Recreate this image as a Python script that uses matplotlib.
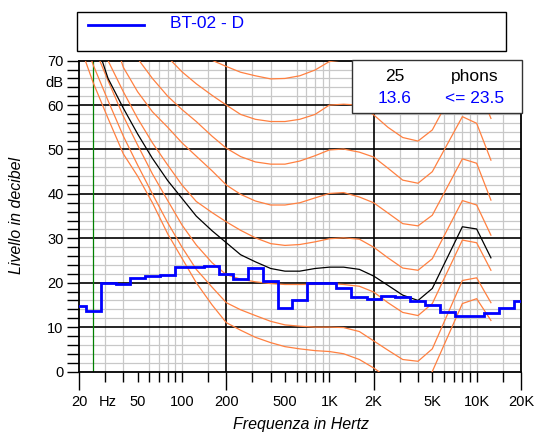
import numpy as np
import matplotlib
matplotlib.use('Agg')
import matplotlib.pyplot as plt
from matplotlib.patches import Rectangle
from matplotlib.lines import Line2D

plt.rcParams['font.family'] = ['Liberation Sans', 'DejaVu Sans']

# ---------------- data ----------------
freq = [20, 25, 31.5, 40, 50, 63, 80, 100, 125, 160, 200, 250, 315, 400, 500,
        630, 800, 1000, 1250, 1600, 2000, 2500, 3150, 4000, 5000, 8000, 10000, 12500]

phon_T = [74, 65, 57, 49, 44, 38, 31, 25.5, 20, 15, 11.0, 9.3, 7.7, 6.5, 5.6,
          5.1, 4.7, 4.5, 4.0, 2.7, 0.8, -1.5, -3.5, -3.5, 0.0, 15.3, 16.4, 11.5]
phon_10 = [78, 69, 61, 53, 46.5, 40, 33.5, 28, 23, 19, 15.5, 13.9, 12.6, 11.3, 10.5,
           10.2, 10.0, 10.0, 9.9, 9.0, 6.9, 4.8, 2.7, 2.3, 5.1, 20.5, 21.1, 15.5]
phon_20 = [82, 73.5, 65.5, 57.5, 51, 44.5, 38.5, 33, 28.5, 24.5, 21.8, 20.8, 20.2, 19.8, 19.6,
           19.6, 19.6, 19.8, 19.6, 19.2, 17.9, 15.5, 13.3, 12.6, 15.3, 29.6, 29.0, 22.8]
phon_30 = [92, 80, 70, 63, 57, 51.5, 46.5, 42, 38.3, 35.8, 33.7, 31.8, 30.1, 28.8, 28.4,
           28.6, 29.2, 29.9, 30.1, 29.8, 28.0, 25.6, 23.3, 22.8, 25.4, 38.5, 37.5, 30.7]
phon_40 = [100, 90, 79, 68.5, 63, 58.5, 55, 51.5, 48.5, 45.2, 42.0, 39.9, 38.4, 37.5, 37.5,
           38.0, 39.1, 40.1, 40.3, 39.3, 38.0, 35.7, 33.3, 32.8, 35.2, 47.9, 46.9, 38.6]
phon_50 = [106, 97, 87, 78, 70.5, 66, 62, 59, 56.3, 53, 50.3, 48.4, 47.2, 46.7, 46.7,
           47.4, 48.6, 49.9, 50.1, 49.4, 48.3, 45.8, 43.1, 42.4, 45.0, 57.4, 55.9, 47.6]
phon_60 = [112, 105, 97, 89, 82, 76, 70.8, 67.5, 64.8, 62.2, 60.0, 57.9, 56.8, 56.3, 56.3,
           56.8, 57.9, 60.0, 60.2, 60.0, 57.8, 55.0, 52.7, 51.9, 54.4, 67.0, 65.0, 57.0]
phon_70 = [118, 112, 106, 99, 92, 86, 80.5, 76.5, 73, 70.1, 68.7, 67.4, 66.6, 65.9, 66.0,
           66.6, 67.9, 69.8, 70.2, 70.0, 68.0, 65.0, 62.5, 61.8, 64.4, 77.0, 75.0, 67.0]
phon_25 = [88, 76, 66, 59.3, 53.5, 48, 43, 39, 35, 31.7, 29.0, 26.3, 24.7, 23.2, 22.6,
           22.6, 23.2, 23.5, 23.5, 23.0, 21.5, 19.4, 17.2, 16.0, 18.7, 32.6, 32.1, 25.6]

bands = [20, 25, 31.5, 40, 50, 63, 80, 100, 125, 160, 200, 250, 315, 400, 500, 630,
         800, 1000, 1250, 1600, 2000, 2500, 3150, 4000, 5000, 6300, 8000, 10000,
         12500, 16000, 20000]
levels = [14.7, 13.6, 20.0, 19.6, 21.1, 21.4, 21.7, 23.5, 23.5, 23.8, 21.9, 20.9, 23.2,
          20.4, 14.4, 16.2, 19.9, 19.9, 18.9, 16.7, 16.4, 16.9, 16.7, 15.9, 14.9, 13.4,
          12.5, 12.5, 13.2, 14.2, 15.9]

xtick_pos = [20, 31.5, 50, 100, 200, 500, 1000, 2000, 5000, 10000, 20000]
xtick_lab = ['20', 'Hz', '50', '100', '200', '500', '1K', '2K', '5K', '10K', '20K']
xminor_pos = [30, 40, 60, 70, 80, 90, 150, 300, 400, 600, 700, 800, 900, 1500,
              3000, 4000, 6000, 7000, 8000, 9000, 15000]
ytick_pos = [0, 10, 20, 30, 40, 50, 60, 70]
legend_label = 'BT-02 - D'

# ---------------- figure ----------------
W, H = 539, 436
fig = plt.figure(figsize=(W / 100, H / 100), dpi=100)
ax = fig.add_axes([79 / W, 1 - 371.5 / H, (521 - 79) / W, (371.5 - 60.7) / H])
ax.set_xscale('log')
ax.set_xlim(20, 20000)
ax.set_ylim(0, 70)

# grid
gray = '#c8c8c8'
for f in xminor_pos + [100, 1000, 10000]:
    ax.axvline(f, color=gray, lw=0.9, zorder=1)
for y in range(2, 70, 2):
    if y % 10:
        ax.axhline(y, color=gray, lw=0.9, zorder=1)
for y in range(10, 70, 10):
    ax.axhline(y, color='black', lw=1.2, zorder=2)
for f in (200, 2000):
    ax.axvline(f, color='black', lw=1.2, zorder=2)
ax.axvline(25, color='#008000', lw=0.9, zorder=2)

# curves
orange = '#ff8040'
for c in (phon_T, phon_10, phon_20, phon_30, phon_40, phon_50, phon_60, phon_70):
    ax.plot(freq, c, color=orange, lw=0.9, zorder=3)
ax.plot(freq, phon_25, color='black', lw=0.9, zorder=3)

b = np.array(bands, dtype=float)
edges = np.concatenate([[b[0] / 2 ** (1 / 6)], np.sqrt(b[:-1] * b[1:]), [b[-1] * 2 ** (1 / 6)]])
ax.stairs(levels, edges, color='#0000ff', lw=2.0, zorder=4, baseline=None)

# axes styling
for s in ax.spines.values():
    s.set_linewidth(1.3)
ax.set_xticks(xtick_pos)
ax.set_xticklabels(xtick_lab)
ax.set_xticks(xminor_pos, minor=True)
ax.xaxis.set_minor_formatter(plt.NullFormatter())
ax.tick_params(axis='x', which='major', direction='out', length=13, width=1.0,
               labelsize=10.5, pad=4)
ax.tick_params(axis='x', which='minor', direction='out', length=7, width=1.0)
for t, f in zip(ax.xaxis.get_major_ticks(), xtick_pos):
    if f == 31.5:
        t.tick1line.set_markersize(0)
    elif f not in (20, 200, 2000, 20000):
        t.tick1line.set_markersize(7)

ax.set_yticks(ytick_pos)
ax.set_yticks(np.arange(0, 71, 2), minor=True)
ax.tick_params(axis='y', which='both', direction='out', length=8.6, width=1.0,
               labelsize=10.5, pad=2.5)
ax.text(-0.036, 65, 'dB', transform=ax.get_yaxis_transform(), ha='right', va='center',
        fontsize=10.5)

fig.text(301 / W, 1 - 424 / H, 'Frequenza in Hertz', ha='center', va='center',
         fontsize=11.5, style='italic')
fig.text(17 / W, 1 - 215 / H, 'Livello in decibel', ha='center', va='center',
         fontsize=11.5, style='italic', rotation=90)

# legend box
fig.add_artist(Rectangle((76.7 / W, 1 - 50.7 / H), (505.7 - 76.7) / W, 38.4 / H,
                         transform=fig.transFigure, facecolor='white', edgecolor='black',
                         lw=1.0, zorder=5))
fig.add_artist(Line2D([88 / W, 144 / W], [1 - 25.3 / H, 1 - 25.3 / H], color='#0000ff',
                      lw=2.0, transform=fig.transFigure, zorder=6))
fig.text(170 / W, 1 - 23.5 / H, legend_label, color='#0000ff', fontsize=12.5,
         ha='left', va='center', zorder=6)

# info box
fig.add_artist(Rectangle((352.3 / W, 1 - 113.3 / H), (521.7 - 352.3) / W, (113.3 - 60.5) / H,
                         transform=fig.transFigure, facecolor='white', edgecolor='#333333',
                         lw=1.0, zorder=5))
fig.text(395 / W, 1 - 76.5 / H, '25', ha='center', va='center', fontsize=12.5, zorder=6)
fig.text(475 / W, 1 - 76.5 / H, 'phons', ha='center', va='center', fontsize=12.5, zorder=6)
fig.text(395 / W, 1 - 98.3 / H, '13.6', ha='center', va='center', fontsize=12.5,
         color='#0000ff', zorder=6)
fig.text(475 / W, 1 - 98.3 / H, '<= 23.5', ha='center', va='center', fontsize=12.5,
         color='#0000ff', zorder=6)

fig.savefig('out.png', dpi=100)
